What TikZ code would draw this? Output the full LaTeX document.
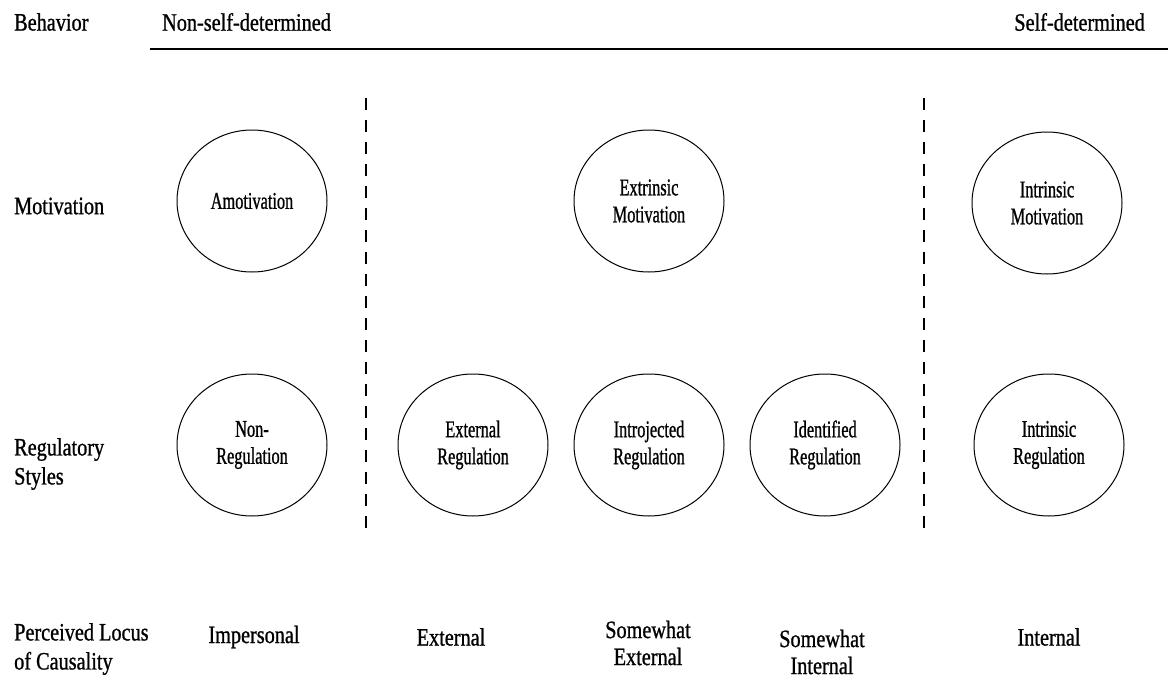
\documentclass[tikz,border=0pt]{standalone}
\usepackage{fontspec}
\setmainfont{Liberation Serif}
\newfontfamily\lblfont[FakeStretch=0.81,FakeBold=0.9]{Liberation Serif}
\newfontfamily\cfont[FakeStretch=0.68,FakeBold=0.9]{Liberation Serif}
\usetikzlibrary{shapes.geometric}
\begin{document}
\begin{tikzpicture}[x=1pt,y=-1pt,
  lbl/.style={inner sep=0pt,align=left,font=\lblfont\fontsize{25}{29}\selectfont},
  lblc/.style={inner sep=0pt,align=center,font=\lblfont\fontsize{25}{27}\selectfont},
  circ/.style={draw,line width=1pt,ellipse,minimum width=150pt,minimum height=142pt,inner sep=0pt,align=center,font=\cfont\fontsize{24}{27}\selectfont},
  divider/.style={line width=1.6pt,dash pattern=on 12pt off 10pt}]
\useasboundingbox (0,0) rectangle (1168,685);
% header
\node[lbl,anchor=west] (beh) at (14,22) {Behavior};
\node[lbl,anchor=west] (nsd) at (162,22) {Non-self-determined};
\node[lbl,anchor=east] (sd) at (1145,22) {Self-determined};
\coordinate (hl) at (150,49);
\coordinate (hr) at (1168,49);
\draw[line width=2pt] (hl) -- (hr);
% dividers
\coordinate (d1t) at (366,98);
\coordinate (d1b) at (366,537);
\coordinate (d2t) at (924,98);
\coordinate (d2b) at (924,537);
\draw[divider] (d1t) -- (d1b);
\draw[divider] (d2t) -- (d2b);
% row labels
\node[lbl,anchor=west] (mot) at (14,206) {Motivation};
\node[lbl,anchor=west] (reg) at (14,464) {Regulatory\\Styles};
\node[lbl,anchor=west] (plc) at (14,649) {Perceived Locus\\of Causality};
% motivation circles
\node[circ] (amot) at (252,201) {Amotivation};
\node[circ] (extm) at (649,201) {Extrinsic\\Motivation};
\node[circ] (intm) at (1047,203) {Intrinsic\\Motivation};
% regulation circles
\node[circ] (nonr) at (252,445) {Non-\\Regulation};
\node[circ] (extr) at (473,445) {External\\Regulation};
\node[circ] (intr) at (649,445) {Introjected\\Regulation};
\node[circ] (idr) at (825,445) {Identified\\Regulation};
\node[circ] (inr) at (1049,445) {Intrinsic\\Regulation};
% locus labels
\node[lblc] (imp) at (254,637) {Impersonal};
\node[lblc] (ext) at (451,637) {External};
\node[lblc] (swe) at (648,643) {Somewhat\\External};
\node[lblc] (swi) at (822,652) {Somewhat\\Internal};
\node[lblc] (int) at (1049,637) {Internal};
\end{tikzpicture}
\end{document}
